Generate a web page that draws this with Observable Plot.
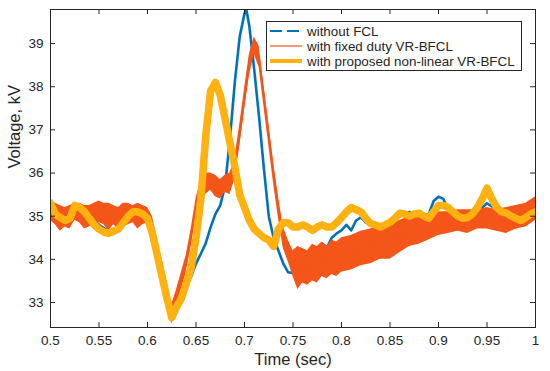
<!DOCTYPE html>
<html><head><meta charset="utf-8">
<script src="https://cdn.jsdelivr.net/npm/d3@7"></script>
<script src="https://cdn.jsdelivr.net/npm/@observablehq/plot@0.6"></script>
<style>body{margin:0;background:#fff;font-family:"Liberation Sans",Arial,sans-serif}</style>
</head><body><div id="chart"></div>
<script>
// ---------- data ----------
const xTicks = [0.5,0.55,0.6,0.65,0.7,0.75,0.8,0.85,0.9,0.95,1];
const xTickLabels = ["0.5","0.55","0.6","0.65","0.7","0.75","0.8","0.85","0.9","0.95","1"];
const yTicks = [33,34,35,36,37,38,39];
const seriesNames = ["without FCL","with fixed duty VR-BFCL","with proposed non-linear VR-BFCL"];
const seriesColors = ["#0072bd","#f45519","#ffb20f"];

// without FCL (blue)
const blueT = [0.50,0.51,0.52,0.53,0.54,0.55,0.56,0.57,0.58,0.59,0.60,0.605,0.61,0.615,0.62,0.625,0.63,0.635,0.64,0.645,0.65,0.655,0.66,0.665,0.67,0.675,0.68,0.685,0.69,0.695,0.70,0.702,0.705,0.71,0.715,0.72,0.725,0.73,0.735,0.74,0.745,0.75,0.755,0.76,0.765,0.77,0.775,0.78,0.785,0.79,0.795,0.80,0.805,0.81,0.815,0.82,0.825,0.83,0.84,0.85,0.86,0.87,0.88,0.89,0.895,0.90,0.905,0.91,0.92,0.93,0.94,0.95,0.96,0.97,0.98,0.99,1.00];
const blueV = [35.2,35.0,34.95,35.2,35.0,34.8,34.65,34.75,35.0,35.1,34.95,34.6,34.1,33.6,33.1,32.65,32.9,33.15,33.4,33.6,33.9,34.13,34.37,34.74,35.05,35.25,35.7,36.8,38.1,39.15,39.7,39.78,39.4,38.4,37.3,36.1,35.0,34.5,34.2,33.9,33.7,33.68,33.7,33.75,33.8,34.13,34.2,34.37,34.28,34.5,34.6,34.67,34.8,34.67,34.9,34.97,34.85,34.8,34.8,34.85,35.0,35.1,35.0,35.05,35.35,35.45,35.4,35.15,35.0,34.9,35.1,35.3,35.15,34.95,34.75,34.9,35.35];

// with fixed duty VR-BFCL (orange) : noisy band, lower / upper envelope
const orangeT = [0.50,0.505,0.51,0.515,0.52,0.525,0.53,0.535,0.54,0.545,0.55,0.555,0.56,0.565,0.57,0.575,0.58,0.585,0.59,0.595,0.60,0.605,0.61,0.615,0.62,0.625,0.63,0.635,0.64,0.645,0.65,0.655,0.66,0.665,0.67,0.675,0.68,0.685,0.69,0.695,0.70,0.705,0.71,0.715,0.72,0.725,0.73,0.735,0.74,0.745,0.75,0.755,0.76,0.765,0.77,0.775,0.78,0.785,0.79,0.795,0.80,0.81,0.82,0.83,0.84,0.85,0.86,0.87,0.88,0.89,0.90,0.91,0.92,0.93,0.94,0.95,0.96,0.97,0.98,0.99,1.00];
const orangeLo = [34.9,34.8,34.65,34.75,34.7,34.9,34.85,34.7,34.75,34.8,34.85,34.8,34.65,34.8,34.7,34.75,34.8,34.85,34.7,34.8,34.85,34.5,34.0,33.5,33.0,32.5,32.8,33.3,33.7,34.3,35.0,35.4,35.5,35.6,35.45,35.4,35.55,35.5,35.85,36.6,37.45,38.25,38.75,38.45,37.55,36.65,35.75,34.95,34.25,33.95,33.6,33.3,33.45,33.4,33.5,33.45,33.6,33.55,33.65,33.6,33.7,33.75,33.85,33.9,34.0,34.0,34.15,34.3,34.35,34.45,34.55,34.6,34.65,34.6,34.7,34.7,34.65,34.6,34.7,34.75,34.9];
const orangeHi = [35.35,35.3,35.25,35.2,35.25,35.3,35.3,35.25,35.25,35.3,35.35,35.3,35.3,35.25,35.2,35.3,35.3,35.25,35.3,35.25,35.2,35.0,34.5,34.0,33.5,32.95,33.3,33.7,34.1,34.7,35.4,35.85,36.0,36.0,35.95,35.85,35.95,36.0,36.35,37.1,37.95,38.75,39.15,38.95,38.05,37.15,36.25,35.45,34.75,34.45,34.2,34.3,34.25,34.2,34.35,34.3,34.4,34.3,34.45,34.4,34.5,34.55,34.65,34.7,34.8,34.85,34.9,35.0,35.05,35.05,35.1,35.1,35.15,35.15,35.15,35.2,35.15,35.2,35.25,35.3,35.45];

// with proposed non-linear VR-BFCL (yellow)
const yellowT = [0.50,0.505,0.51,0.515,0.52,0.525,0.53,0.535,0.54,0.545,0.55,0.555,0.56,0.565,0.57,0.575,0.58,0.585,0.59,0.595,0.60,0.605,0.61,0.615,0.62,0.625,0.63,0.635,0.64,0.645,0.65,0.655,0.66,0.665,0.67,0.675,0.68,0.685,0.69,0.695,0.70,0.705,0.71,0.715,0.72,0.725,0.73,0.735,0.74,0.745,0.75,0.755,0.76,0.765,0.77,0.775,0.78,0.785,0.79,0.795,0.80,0.805,0.81,0.815,0.82,0.825,0.83,0.835,0.84,0.845,0.85,0.855,0.86,0.865,0.87,0.875,0.88,0.885,0.89,0.895,0.90,0.905,0.91,0.915,0.92,0.925,0.93,0.935,0.94,0.945,0.95,0.955,0.96,0.965,0.97,0.975,0.98,0.985,0.99,0.995,1.00];
const yellowV = [35.3,35.05,34.97,34.9,34.95,35.25,35.2,35.1,34.95,34.8,34.7,34.63,34.6,34.65,34.7,34.85,35.0,35.1,35.1,35.05,34.95,34.6,34.1,33.6,33.1,32.65,32.9,33.1,33.45,33.8,34.5,35.4,36.85,37.9,38.1,37.8,37.25,36.7,36.15,35.5,35.2,34.9,34.7,34.6,34.5,34.45,34.3,34.7,34.85,34.85,34.75,34.75,34.8,34.75,34.67,34.75,34.8,34.75,34.75,34.85,34.97,35.1,35.2,35.15,35.1,34.95,34.83,34.8,34.75,34.8,34.86,34.95,35.07,35.05,35.0,35.05,35.07,35.0,34.95,35.1,35.25,35.25,35.2,35.1,35.0,34.95,34.97,35.05,35.2,35.4,35.65,35.4,35.2,35.1,35.07,35.0,34.95,34.9,34.97,35.05,35.1];

// ---------- tables built from arrays ----------
const blue = blueT.map((t,i)=>({t, v: blueV[i]}));
const orange = orangeT.map((t,i)=>({t, lo: orangeLo[i], hi: orangeHi[i]}));
const yellow = yellowT.map((t,i)=>({t, v: yellowV[i]}));

const W = 550, H = 371;
const mL = 50, mR = 15, mT = 9, mB = 44;
const xDom = [0.5, 1], yDom = [32.42, 39.79];
const pxX = (W - mL - mR) / (xDom[1] - xDom[0]);
const pxY = (H - mT - mB) / (yDom[1] - yDom[0]);
const tl = 5; // tick length, px
const axisColor = "#262626";
const font = "'Liberation Sans', Arial, sans-serif";

const plot = Plot.plot({
  width: W, height: H,
  marginLeft: mL, marginRight: mR, marginTop: mT, marginBottom: mB,
  style: {fontFamily: font, background: "#fff", color: axisColor},
  x: {domain: xDom},
  y: {domain: yDom},
  marks: [
    Plot.lineY(blue, {x: "t", y: "v", stroke: seriesColors[0], strokeWidth: 2.6, clip: true}),
    Plot.areaY(orange, {x: "t", y1: "lo", y2: "hi", fill: seriesColors[1], clip: true}),
    Plot.lineY(orange, {x: "t", y: d => (d.lo + d.hi) / 2, stroke: seriesColors[1], strokeWidth: 1.5, clip: true}),
    Plot.lineY(yellow, {x: "t", y: "v", stroke: seriesColors[2], strokeWidth: 7.5, strokeLinejoin: "round", clip: true}),
    Plot.frame({stroke: axisColor, strokeWidth: 1}),
    // inward ticks (bottom/top, left/right)
    Plot.ruleX(xTicks, {x: d => d, y1: yDom[0], y2: yDom[0] + tl / pxY, stroke: axisColor}),
    Plot.ruleX(xTicks, {x: d => d, y1: yDom[1], y2: yDom[1] - tl / pxY, stroke: axisColor}),
    Plot.ruleY(yTicks, {y: d => d, x1: xDom[0], x2: xDom[0] + tl / pxX, stroke: axisColor}),
    Plot.ruleY(yTicks, {y: d => d, x1: xDom[1], x2: xDom[1] - tl / pxX, stroke: axisColor}),
    Plot.axisX(xTicks, {tickSize: 0, tickPadding: 8, fontSize: 13.5, label: null,
      tickFormat: d => xTickLabels[xTicks.indexOf(d)], fill: axisColor}),
    Plot.axisY(yTicks, {tickSize: 0, tickPadding: 7, fontSize: 13.5, label: null, fill: axisColor}),
    Plot.text(["Time (sec)"], {text: d => d, frameAnchor: "bottom", dy: 37, fontSize: 16.5, fill: axisColor}),
    Plot.text(["Voltage, kV"], {text: d => d, frameAnchor: "left", dx: -36, rotate: -90, fontSize: 16.5, fill: axisColor})
  ]
});
document.getElementById("chart").appendChild(plot);

// ---------- legend (inside axes, top right) ----------
const svg = d3.select(plot);
const lg = svg.append("g").attr("font-family", font).attr("font-size", 13.4)
  .attr("fill", axisColor).attr("text-anchor", "start");
const lx = 266, ly = 21, lw = 255, lh = 49;
lg.append("rect").attr("x", lx + 0.5).attr("y", ly + 0.5).attr("width", lw).attr("height", lh)
  .attr("fill", "#fff").attr("stroke", axisColor).attr("stroke-width", 1);
const rowY = [31, 46, 61];
const rowW = [2, 1.2, 4];
seriesNames.forEach((name, i) => {
  const line = lg.append("line").attr("x1", 270).attr("x2", 302).attr("y1", rowY[i]).attr("y2", rowY[i])
    .attr("stroke", seriesColors[i]).attr("stroke-width", rowW[i]);
  if (i === 0) line.attr("stroke-dasharray", "12,5");
  lg.append("text").attr("x", 307).attr("y", rowY[i]).attr("dy", "0.35em")
    .attr("text-anchor", "start").text(name);
});
</script>
</body></html>
